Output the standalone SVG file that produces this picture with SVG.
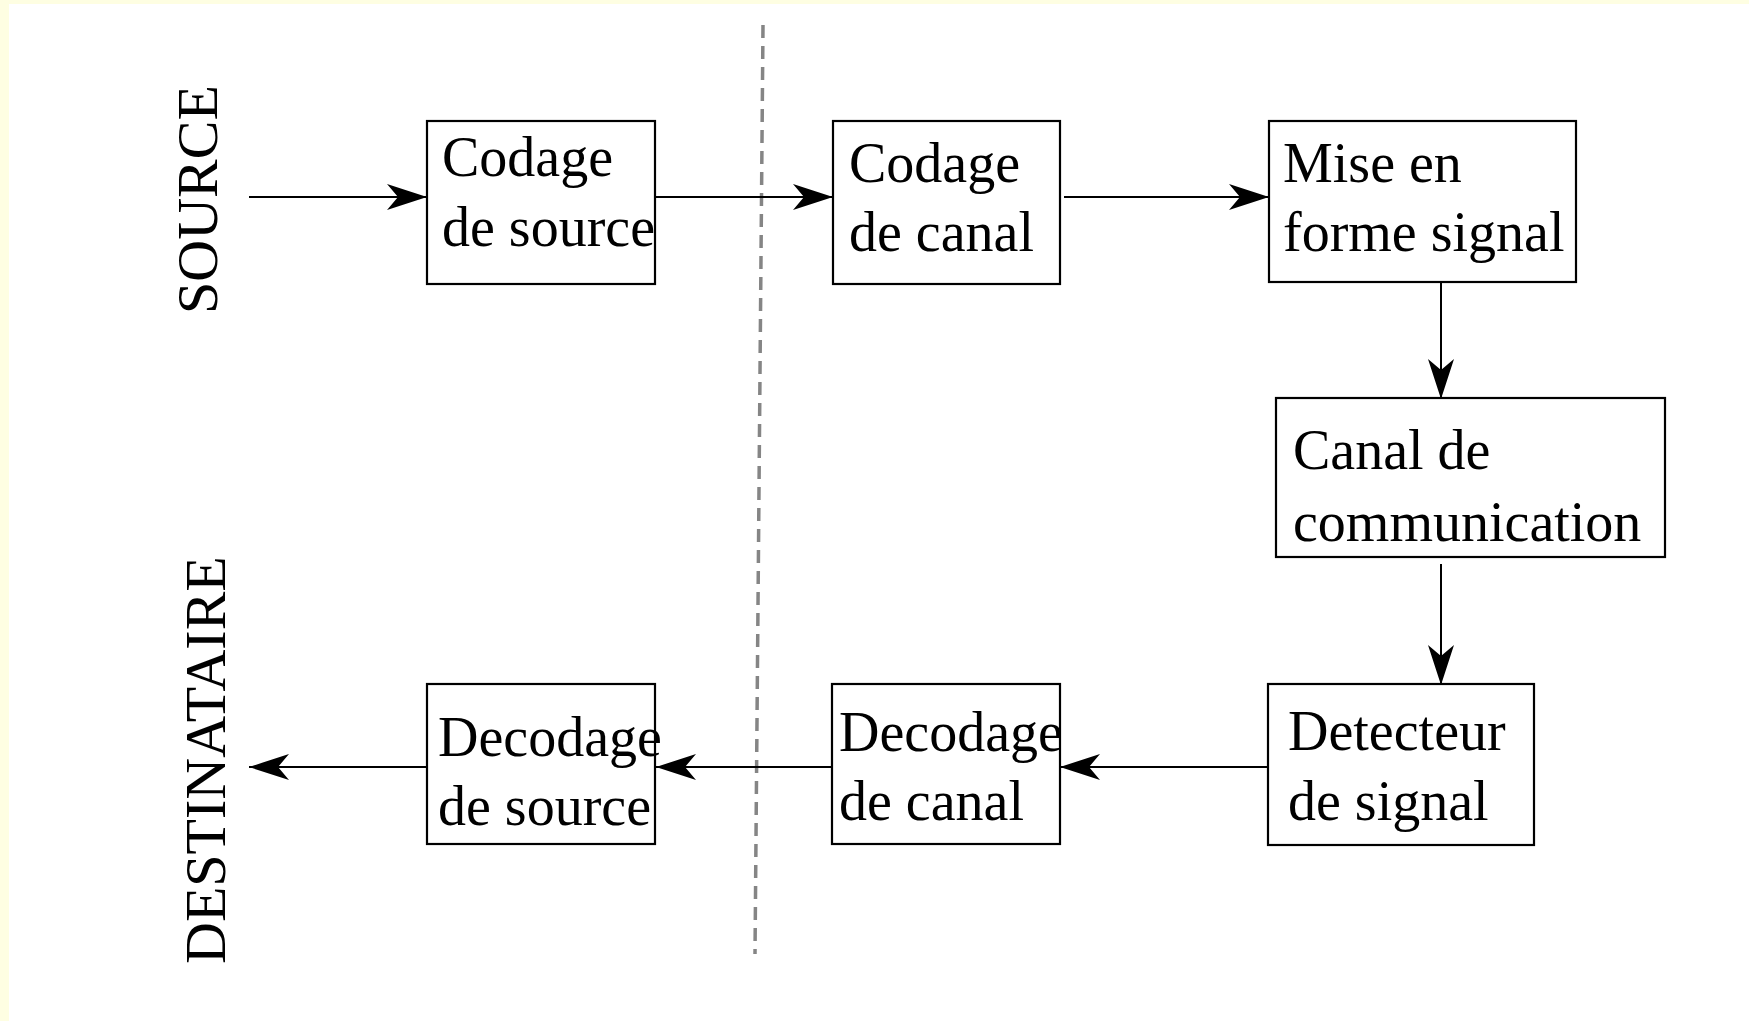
<svg xmlns="http://www.w3.org/2000/svg" width="1749" height="1021" viewBox="0 0 1749 1021">
<style>
.box{fill:none;stroke:#000;stroke-width:2.2}
.lbl{font-family:"Liberation Serif","Times New Roman",serif;font-size:56px;fill:#000}
.side{font-family:"Liberation Serif","Times New Roman",serif;font-size:58px;fill:#000}
.conn{stroke:#000;stroke-width:2;fill:none;marker-end:url(#arr)}
</style>
<defs>
<marker id="arr" markerUnits="userSpaceOnUse" markerWidth="44" markerHeight="30" refX="40" refY="13" orient="auto">
<path d="M0,0 L40,13 L0,26 L11,13 Z" fill="#000"/>
</marker>
</defs>
<rect x="0" y="0" width="1749" height="1021" fill="#fefee2"/>
<rect x="9" y="4" width="1740" height="1017" fill="#ffffff"/>
<line x1="763" y1="25" x2="755" y2="954" stroke="#858585" stroke-width="3.5" stroke-dasharray="13 8"/>
<text class="side" transform="translate(217,314) rotate(-90)">SOURCE</text>
<text class="side" transform="translate(225,964) rotate(-90)">DESTINATAIRE</text>
<g id="connectors">
<line class="conn" x1="249" y1="197" x2="427" y2="197"/>
<line class="conn" x1="655" y1="197" x2="833" y2="197"/>
<line class="conn" x1="1064" y1="197" x2="1269" y2="197"/>
<line class="conn" x1="1441" y1="282" x2="1441" y2="399"/>
<line class="conn" x1="1441" y1="564" x2="1441" y2="685"/>
<line class="conn" x1="1268" y1="767" x2="1060" y2="767"/>
<line class="conn" x1="832" y1="767" x2="656" y2="767"/>
<line class="conn" x1="427" y1="767" x2="249" y2="767"/>
</g>
<g id="codage-source">
<rect class="box" x="427" y="121" width="228" height="163"/>
<text class="lbl" x="442" y="176">Codage</text>
<text class="lbl" x="442" y="246">de source</text>
</g>
<g id="codage-canal">
<rect class="box" x="833" y="121" width="227" height="163"/>
<text class="lbl" x="849" y="182">Codage</text>
<text class="lbl" x="849" y="251">de canal</text>
</g>
<g id="mise-en-forme">
<rect class="box" x="1269" y="121" width="307" height="161"/>
<text class="lbl" x="1283" y="182">Mise en</text>
<text class="lbl" x="1283" y="251">forme signal</text>
</g>
<g id="canal-communication">
<rect class="box" x="1276" y="398" width="389" height="159"/>
<text class="lbl" x="1293" y="469">Canal de</text>
<text class="lbl" x="1293" y="541">communication</text>
</g>
<g id="detecteur">
<rect class="box" x="1268" y="684" width="266" height="161"/>
<text class="lbl" x="1288" y="750">Detecteur</text>
<text class="lbl" x="1288" y="820">de signal</text>
</g>
<g id="decodage-canal">
<rect class="box" x="832" y="684" width="228" height="160"/>
<text class="lbl" x="839" y="751">Decodage</text>
<text class="lbl" x="839" y="820">de canal</text>
</g>
<g id="decodage-source">
<rect class="box" x="427" y="684" width="228" height="160"/>
<text class="lbl" x="438" y="756">Decodage</text>
<text class="lbl" x="438" y="825">de source</text>
</g>
</svg>
